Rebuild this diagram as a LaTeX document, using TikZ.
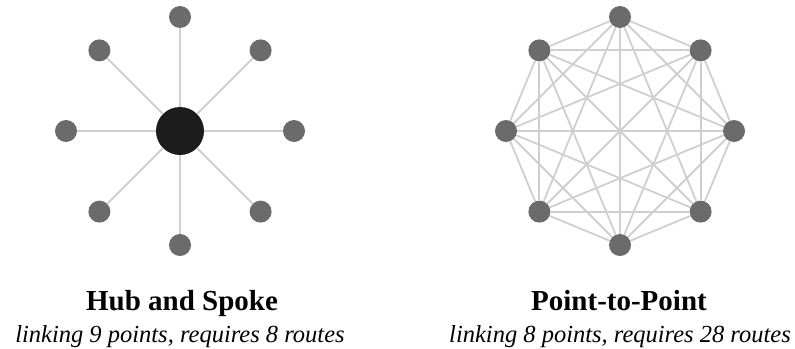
\documentclass[tikz,border=0pt]{standalone}
\usepackage{fontspec}
\setmainfont{Liberation Serif}
\usetikzlibrary{calc}
\definecolor{routegray}{HTML}{CFCFCF}
\definecolor{pointgray}{HTML}{6B6B6B}
\definecolor{hubblack}{HTML}{1C1C1C}
\begin{document}
\begin{tikzpicture}[x=1pt,y=-1pt]
\tikzstyle{hub} = [circle, minimum size=48pt, fill=hubblack, inner sep=0pt] % central hub
\tikzstyle{pt} = [circle, minimum size=22pt, fill=pointgray, inner sep=0pt] % point style
\tikzstyle{route} = [routegray, line width=1.8pt] % connecting route
\tikzstyle{title} = [anchor=base, font=\fontsize{29}{30}\selectfont\bfseries] % heading
\tikzstyle{caption} = [anchor=base, font=\fontsize{24.5}{26}\selectfont\itshape] % caption under heading
\useasboundingbox (0,0) rectangle (795,348);
% hub and spoke
\node[hub] (hub) at (180,131) {};
\foreach \i in {1,...,8}
    \node[pt] (s\i) at ($(hub)+({90-45*(\i-1)}:114)$) {};
\foreach \i in {1,...,8}
    \draw[route] (hub) -- (s\i);
% point to point
\coordinate (mid) at (620,131);
\foreach \i in {1,...,8}
    \node[pt] (p\i) at ($(mid)+({90-45*(\i-1)}:114)$) {};
\foreach \i in {1,...,7} {
    \pgfmathtruncatemacro\k{\i+1}
    \foreach \j in {\k,...,8}
        \draw[route] (p\i) -- (p\j);
}
% labels
\node[title] (hubtitle) at (182,310) {Hub and Spoke};
\node[caption] (hubcap) at (180,342) {linking 9 points, requires 8 routes};
\node[title] (p2ptitle) at (619,310) {Point-to-Point};
\node[caption] (p2pcap) at (620,342) {linking 8 points, requires 28 routes};
\end{tikzpicture}
\end{document}
